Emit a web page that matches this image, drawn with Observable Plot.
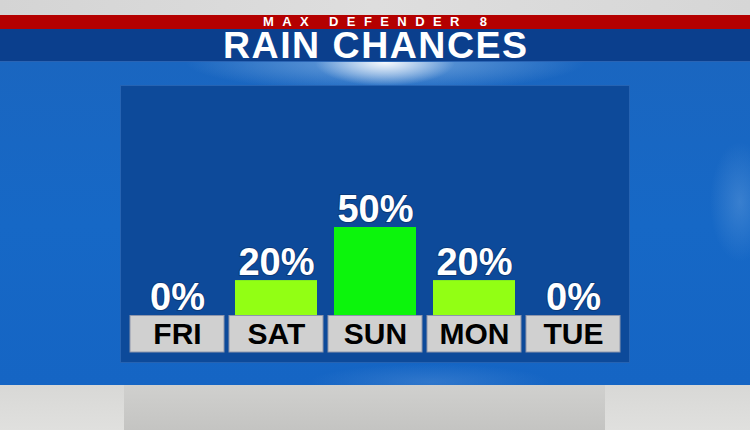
<!DOCTYPE html>
<html>
<head>
<meta charset="utf-8">
<script src="https://cdn.jsdelivr.net/npm/d3@7"></script>
<script src="https://cdn.jsdelivr.net/npm/@observablehq/plot@0.6"></script>
<style>
  html, body { margin: 0; padding: 0; background: #d9d9d9; }
  #stage { position: relative; width: 750px; height: 430px; overflow: hidden; font-family: "Liberation Sans", Arial, sans-serif; }
  #topgray { position: absolute; left: 0; top: 0; width: 750px; height: 15px; background: linear-gradient(90deg, #d4d4d4, #dedede 50%, #d6d6d6); }
  #redband { position: absolute; left: 0; top: 15px; width: 750px; height: 14px; background: #b40000; }
  #brand { position: absolute; left: 0; top: 15px; width: 750px; height: 14px; line-height: 14px; text-align: center; color: #fff; font-weight: bold; font-size: 13px; letter-spacing: 8.4px; text-indent: 8.4px; }
  #titleband { position: absolute; left: 0; top: 29px; width: 750px; height: 33px; background: #0b3f8d; border-bottom: 1px solid #2a64b4; box-sizing: border-box; }
  #title { position: absolute; left: 0; top: 29px; width: 750px; height: 33px; text-align: center; color: #fff; font-weight: bold; font-size: 37.5px; line-height: 33px; letter-spacing: 1.5px; text-indent: 1.5px; }
  #sky { position: absolute; left: 0; top: 62px; width: 750px; height: 323px;
    background:
      radial-gradient(ellipse 70px 24px at 385px 0px, rgba(255,255,255,0.95), rgba(255,255,255,0) 100%),
      radial-gradient(ellipse 200px 30px at 385px 0px, rgba(170,205,240,0.6), rgba(170,205,240,0) 100%),
      radial-gradient(ellipse 30px 60px at 740px 140px, rgba(120,170,225,0.35), rgba(120,170,225,0) 100%),
      radial-gradient(ellipse 120px 18px at 430px 320px, rgba(110,160,220,0.3), rgba(110,160,220,0) 100%),
      linear-gradient(180deg, #1a66c0, #1668c6 50%, #1565c4);
  }
  #botgray { position: absolute; left: 0; top: 385px; width: 750px; height: 45px; background: linear-gradient(180deg, #d8d8d6, #e0e0de); }
  #botmid { position: absolute; left: 124px; top: 385px; width: 481px; height: 45px; background: linear-gradient(180deg, #d0d0ce, #c4c4c2); }
  #chart { position: absolute; left: 121px; top: 86px; width: 508px; height: 276px; background: #0d4a9a; box-shadow: 0 0 0 1px #2663b2; }
  #chart svg { display: block; }
</style>
</head>
<body>
<div id="stage">
  <div id="topgray"></div>
  <div id="sky"></div>
  <div id="redband"></div>
  <div id="brand">MAX DEFENDER 8</div>
  <div id="titleband"></div>
  <div id="title">RAIN CHANCES</div>
  <div id="botgray"></div>
  <div id="botmid"></div>
  <div id="chart"></div>
</div>
<script>
const days = ["FRI", "SAT", "SUN", "MON", "TUE"];
const chances = [0, 20, 50, 20, 0];
const pctLabels = ["0%", "20%", "50%", "20%", "0%"];

const data = days.map((d, i) => ({day: d, chance: chances[i], label: pctLabels[i]}));

const chart = Plot.plot({
  width: 508,
  height: 276,
  marginLeft: 4,
  marginRight: 4,
  marginTop: 52.5,
  marginBottom: 46.5,
  style: {background: "transparent", overflow: "visible"},
  x: {domain: days, padding: 0.048, axis: null},
  y: {domain: [0, 100], axis: null},
  color: {type: "threshold", domain: [30], range: ["#92ff14", "#0cf50c"]},
  marks: [
    Plot.barY(data, {x: "day", y: "chance", fill: "chance", insetLeft: 6, insetRight: 6}),
    Plot.barY(data, {x: "day", y1: 0, y2: 0, insetBottom: -36.5, fill: "#d0d0d0", stroke: "#8e96ac", strokeWidth: 1}),
    Plot.text(data, {x: "day", y: 0, dy: 18.5, text: "day", fill: "#000", fontSize: 30, fontWeight: "bold", fontFamily: "Liberation Sans, Arial, sans-serif"}),
    Plot.text(data, {x: "day", y: "chance", dy: -6, lineAnchor: "bottom", text: "label", fill: "#fff", stroke: "#0a2a5c", strokeWidth: 2, strokeOpacity: 0.5, fontSize: 38, fontWeight: "bold", fontFamily: "Liberation Sans, Arial, sans-serif"})
  ]
});
document.getElementById("chart").appendChild(chart);
</script>
</body>
</html>
